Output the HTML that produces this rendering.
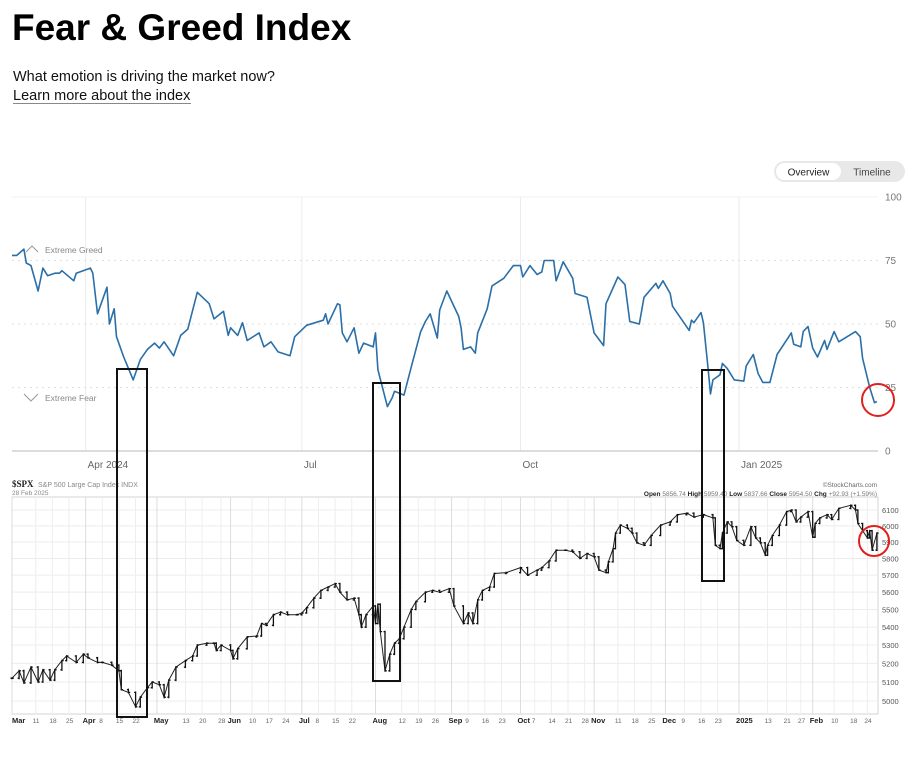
<!DOCTYPE html>
<html><head><meta charset="utf-8">
<style>
html,body{margin:0;padding:0;background:#fff;width:919px;height:759px;overflow:hidden;}
svg{display:block;font-family:"Liberation Sans",sans-serif;}
</style></head>
<body>
<svg id="chart" width="919" height="759" viewBox="0 0 919 759" xmlns="http://www.w3.org/2000/svg">
  <text x="12" y="40" font-size="37" font-weight="bold" fill="#000">Fear &amp; Greed Index</text>
  <text x="13" y="81" font-size="14.5" fill="#111">What emotion is driving the market now?</text>
  <text x="13" y="100" font-size="14.5" fill="#111">Learn more about the index</text>
  <line x1="13" y1="103.5" x2="191" y2="103.5" stroke="#888" stroke-width="1"/>
  <g>
    <rect x="774" y="161" width="131" height="21" rx="10.5" fill="#e8e8e8"/>
    <rect x="776" y="163" width="65" height="17" rx="8.5" fill="#fff"/>
    <text x="808.5" y="175.5" font-size="10" text-anchor="middle" fill="#222">Overview</text>
    <text x="872" y="175.5" font-size="10" text-anchor="middle" fill="#444">Timeline</text>
  </g>
  <g id="fg"></g>
  <g id="sp"></g>
  <g id="ann"></g>
</svg>
<script>
// ---- Fear & Greed data (day offset from 1 Mar 2024, index value) ----
const fgDays = [0,2,5,6,8,11,13,15,18,20,21,26,27,33,34,36,40,41,43,44,47,51,54,57,60,62,64,68,71,74,78,83,85,89,91,92,95,97,99,104,106,109,112,117,119,124,131,132,133,137,138,139,141,144,146,148,152,153,154,158,160,161,165,168,172,174,176,179,180,183,188,189,190,193,195,196,200,202,207,211,214,215,218,221,223,224,228,229,232,236,237,242,245,249,250,255,258,260,264,266,271,272,274,277,278,285,286,287,290,291,293,294,295,298,299,301,304,308,309,312,314,316,319,322,328,329,332,333,335,337,339,342,343,346,348,355,357,358,361,363,364];
const fgValues = [77,77,79.5,74,73,63,72,69,70,70,71,67,70,72,70,54,64.5,50,56,45,37,28,36,40,42.5,40.5,43,37.5,45.5,48,62.5,58,52,55,45.5,48.5,45.5,50.5,43.5,46.5,41,43,39,37.5,45,49.5,51.5,54,50,58,57.5,46.5,43,48.5,38.5,42.5,41,46.5,32,17.5,21,23.5,22,33,47,51,54,44.5,55.5,63,53,48.5,40,41,38.5,46.5,56,65,68,73,73,68.5,73,69.5,70.5,75,75,67,74.5,68,62,60.5,46.5,41.5,58,68.5,65.5,51,50,60.5,66,64,67,62,57,47.5,51.5,50.5,54.5,50.5,32,22.5,28,30,34.5,32.5,28,27.5,33.5,38,30.5,27,27,38,46.5,42,41,47,49,40.5,37,43.5,40,47,43,47,45,36.5,25,19,19.5];
const fgTicks = [0,25,50,75,100];
const fgMonthLabels = ["Apr 2024","Jul","Oct","Jan 2025"];
const fgMonthDays = [31,122,214,306];
// ---- S&P 500 data ----
const spDays = [0,3,5,8,11,13,16,18,21,23,27,30,32,36,38,42,45,46,49,52,54,57,59,62,64,66,69,73,76,78,82,85,86,88,92,93,95,99,103,105,107,110,113,116,120,122,124,127,130,133,136,138,141,144,146,147,149,152,153,154,155,157,159,161,163,165,168,170,174,177,180,184,186,190,192,194,196,198,201,203,208,214,217,221,223,226,229,233,236,239,242,245,247,250,251,253,254,256,259,261,263,266,269,273,277,280,284,287,291,295,296,298,299,301,303,305,308,311,313,315,317,318,320,323,326,328,330,332,335,337,338,340,343,345,348,353,355,356,358,360,361,362,364];
const spCloses = [5120,5160,5095,5180,5100,5165,5110,5165,5215,5240,5205,5250,5230,5205,5205,5190,5160,5060,5045,4970,5020,5070,5100,5085,5020,5110,5180,5215,5240,5300,5310,5310,5270,5300,5270,5225,5280,5345,5350,5420,5410,5470,5485,5470,5470,5480,5510,5565,5610,5630,5650,5600,5555,5565,5470,5400,5470,5520,5420,5530,5375,5160,5250,5310,5335,5400,5500,5545,5600,5610,5600,5620,5520,5420,5480,5420,5555,5610,5630,5710,5715,5745,5700,5730,5745,5785,5850,5850,5840,5800,5830,5810,5730,5715,5780,5860,5955,6005,5985,5955,5895,5880,5940,6005,6025,6070,6080,6055,6070,6050,5880,5860,5955,6025,5995,5910,5880,5995,5925,5895,5820,5880,5940,6005,6090,6100,6025,6055,6090,5930,6015,6050,6070,6040,6110,6130,6100,6015,5970,5925,5970,5850,5955];
const spTicks = [5000,5100,5200,5300,5400,5500,5600,5700,5800,5900,6000,6100];
const spDateLabels = ["Mar","11","18","25","Apr","8","15","22","May","13","20","28","Jun","10","17","24","Jul","8","15","22","Aug","12","19","26","Sep","9","16","23","Oct","7","14","21","28","Nov","11","18","25","Dec","9","16","23","2025","13","21","27","Feb","10","18","24"];
const spDateDays = [0,10,17,24,31,38,45,52,61,73,80,88,92,101,108,115,122,129,136,143,153,164,171,178,185,192,199,206,214,220,227,234,241,245,255,262,269,275,283,290,297,306,318,326,332,337,346,354,360];
const monthLabelSet = ["Mar","Apr","May","Jun","Jul","Aug","Sep","Oct","Nov","Dec","2025","Feb"];

const NS = "http://www.w3.org/2000/svg";
function mk(tag, attrs, parent){const e=document.createElementNS(NS,tag);for(const k in attrs)e.setAttribute(k,attrs[k]);parent.appendChild(e);return e;}
const X = d => 12 + d * 2.376;
const fgY = v => 451 - v * 2.54;
const spY = p => 510 + 2212 * (Math.log10(6100) - Math.log10(p));

// ---- Fear & Greed chart ----
const fg = document.getElementById('fg');
fgMonthDays.forEach((d,i)=>{
  const l = mk('line',{x1:X(d),y1:197,x2:X(d),y2:451,stroke:'#ececec','stroke-width':1},fg);
  
  
  const t = mk('text',{x:X(d)+2,y:468,'font-size':10,fill:'#666'},fg);
  t.textContent = fgMonthLabels[i];
  
  
});
fgTicks.forEach(v=>{
  const y = fgY(v);
  const attrs = v===0 ? {x1:12,y1:y,x2:878,y2:y,stroke:'#d0d0d0','stroke-width':1.5}
              : v===100 ? {x1:12,y1:y,x2:878,y2:y,stroke:'#f0f0f0','stroke-width':1}
              : {x1:12,y1:y,x2:878,y2:y,stroke:'#ddd','stroke-width':1,'stroke-dasharray':'2,4'};
  const l = mk('line',attrs,fg);
  
  
  const t = mk('text',{x:885,y:y+3.5,'font-size':10,fill:'#777'},fg);
  t.textContent = String(v);
  
  
});
const eg = mk('path',{d:'M26 252 L32 246 L38 252',fill:'none',stroke:'#999','stroke-width':1},fg);


const egt = mk('text',{x:45,y:253,'font-size':8.5,fill:'#888'},fg);
egt.textContent='Extreme Greed';


const ef = mk('path',{d:'M24 394 L31 401 L38 394',fill:'none',stroke:'#999','stroke-width':1},fg);


const eft = mk('text',{x:45,y:401,'font-size':8.5,fill:'#888'},fg);
eft.textContent='Extreme Fear';


const fgPath = mk('path',{d:fgDays.map((d,i)=>(i?'L':'M')+X(d).toFixed(1)+' '+fgY(fgValues[i]).toFixed(1)).join(' '),fill:'none',stroke:'#2a6fa8','stroke-width':1.6,'stroke-linejoin':'round'},fg);



// ---- S&P chart ----
const sp = document.getElementById('sp');
const frame = mk('rect',{x:12,y:497,width:866,height:217,fill:'none',stroke:'#d4d4d4','stroke-width':1},sp);


spTicks.forEach(p=>{
  const y = spY(p);
  const l = mk('line',{x1:12,y1:y,x2:878,y2:y,stroke:'#ececec','stroke-width':1},sp);
  
  
  const t = mk('text',{x:882,y:y+3,'font-size':7.5,fill:'#555'},sp);
  t.textContent = String(p);
  
  
});
spDateDays.forEach((d,i)=>{
  const x = X(d);
  const isM = monthLabelSet.includes(spDateLabels[i]);
  const l = mk('line',{x1:x,y1:497,x2:x,y2:714,stroke:isM?'#dcdcdc':'#eeeeee','stroke-width':1},sp);
  
  
  const t = mk('text',{x:x+(i===0?0:-3),y:723,'font-size':isM?7.5:6.5,'font-weight':isM?'bold':'normal',fill:isM?'#222':'#666'},sp);
  t.textContent = spDateLabels[i];
  
  
});
const spLine = mk('path',{d:spDays.map((d,i)=>(i?'L':'M')+X(d).toFixed(1)+' '+spY(spCloses[i]).toFixed(1)).join(' '),fill:'none',stroke:'#222','stroke-width':1,'stroke-linejoin':'miter'},sp);


spDays.forEach((d,i)=>{
  const c = spCloses[i];
  const pc = i ? spCloses[i-1] : c;
  const hi = Math.max(c,pc)+5, lo = Math.min(c,pc)-5;
  const x = X(d);
  const b = mk('path',{d:`M${x.toFixed(1)} ${spY(hi).toFixed(1)} V${spY(lo).toFixed(1)} M${(x-1.5).toFixed(1)} ${spY(pc).toFixed(1)} H${x.toFixed(1)} M${x.toFixed(1)} ${spY(c).toFixed(1)} H${(x+1.8).toFixed(1)}`,stroke:'#111','stroke-width':1.3,fill:'none'},sp);
  
  
});
const hdr = mk('text',{x:12,y:487,'font-size':9,fill:'#222','font-family':'Liberation Serif, serif','font-weight':'bold'},sp);
hdr.textContent='$SPX';


const hdr2 = mk('text',{x:38,y:487,'font-size':7,fill:'#888'},sp);
hdr2.textContent='S&P 500 Large Cap Index INDX';


const dt = mk('text',{x:12,y:495,'font-size':6.5,fill:'#888'},sp);
dt.textContent='28 Feb 2025';


const cr = mk('text',{x:877,y:487,'font-size':6.5,fill:'#666','text-anchor':'end'},sp);
cr.textContent='©StockCharts.com';


const ohlc = mk('text',{x:877,y:496,'font-size':6.5,fill:'#777','text-anchor':'end'},sp);
ohlc.innerHTML='<tspan font-weight="bold" fill="#222">Open</tspan> 5856.74 <tspan font-weight="bold" fill="#222">High</tspan> 5959.40 <tspan font-weight="bold" fill="#222">Low</tspan> 5837.66 <tspan font-weight="bold" fill="#222">Close</tspan> 5954.50 <tspan font-weight="bold" fill="#222">Chg</tspan> +92.93 (+1.59%)';



// ---- annotations ----
const ann = document.getElementById('ann');
[[117,369,30,348],[373,383,27,298],[702,370,22,211]].forEach(r=>{
  const b = mk('rect',{x:r[0],y:r[1],width:r[2],height:r[3],fill:'none',stroke:'#111','stroke-width':2},ann);
  
  
});
[[878,400,16],[874,541,15]].forEach(c=>{
  const e = mk('circle',{cx:c[0],cy:c[1],r:c[2],fill:'none',stroke:'#e0201c','stroke-width':2},ann);
  
  
});
</script>
</body></html>
